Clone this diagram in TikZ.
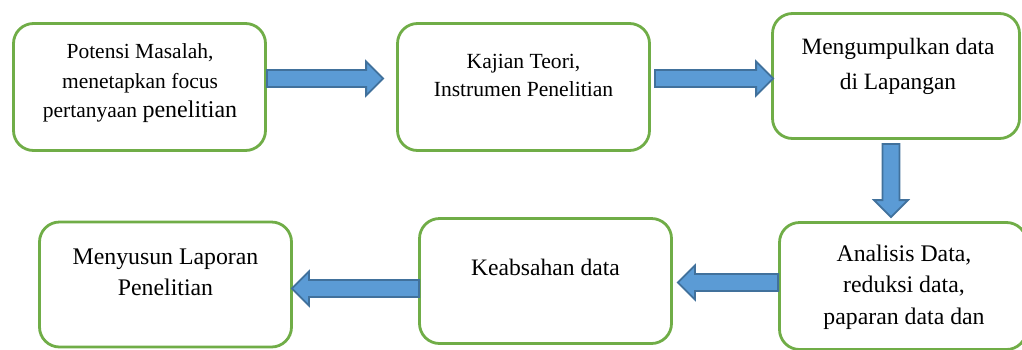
\documentclass[tikz,border=0pt]{standalone}
\usepackage{fontspec}
\setmainfont{Liberation Serif}
\usetikzlibrary{calc}
\definecolor{boxgreen}{HTML}{70AD47}
\definecolor{arrfill}{HTML}{5B9BD5}
\definecolor{arrline}{HTML}{41719C}
\tikzset{
  stepbox/.style={draw=boxgreen, line width=2.8pt, rounded corners=20pt, fill=white, inner sep=0pt},
  txt/.style={align=center, inner sep=0pt, text=black},
  barrow/.style={fill=arrfill, draw=arrline, line width=1.8pt, line join=miter},
  fa/.style={font=\fontsize{21.5}{29.5}\selectfont},
  fb/.style={font=\fontsize{23.6}{33}\selectfont}
}
% block arrow: #1 name prefix, #2 tail coordinate, #3 tip coordinate
\newcommand\blockarr[3]{%
  \path ($(#3)!17pt!(#2)$) coordinate (#1h);
  \draw[barrow] ($(#2)!8.5pt!90:(#3)$) -- ($(#1h)!8.5pt!-90:(#2)$)
     -- ($(#1h)!17pt!-90:(#2)$) -- (#3) -- ($(#1h)!17pt!90:(#2)$)
     -- ($(#1h)!8.5pt!90:(#2)$) -- ($(#2)!8.5pt!-90:(#3)$) -- cycle;}
\begin{document}
\begin{tikzpicture}[x=1pt,y=1pt]
\useasboundingbox (0,0) rectangle (1022,-349);
\clip (0,0) rectangle (1022,-349);
% boxes
\node[stepbox, minimum width=252pt, minimum height=127pt] (b1) at (139.5,-87) {};
\node[stepbox, minimum width=252pt, minimum height=127pt] (b2) at (523.5,-87) {};
\node[stepbox, minimum width=247pt, minimum height=125pt] (b3) at (896,-76) {};
\node[stepbox, minimum width=247pt, minimum height=127pt] (b6) at (903,-286) {};
\node[stepbox, minimum width=252pt, minimum height=125pt] (b5) at (545.5,-281) {};
\node[stepbox, minimum width=252pt, minimum height=125pt] (b4) at (165.5,-284.5) {};
% texts
\node[txt, fa] (t1) at ($(b1.north)+(0.5,-61)$) {Potensi Masalah,\\menetapkan focus\\pertanyaan {\fontsize{24}{29.5}\selectfont penelitian}};
\node[txt, fa, font=\fontsize{21.6}{28}\selectfont] (t2) at ($(b2.north)+(0,-53)$) {Kajian Teori,\\Instrumen Penelitian};
\node[txt, fb, font=\fontsize{23.4}{35}\selectfont] (t3) at ($(b3.north)+(2,-54)$) {Mengumpulkan data\\di Lapangan};
\node[txt, fb, font=\fontsize{23.8}{31.5}\selectfont] (t6) at ($(b6.north)+(1,-66)$) {Analisis Data,\\reduksi data,\\paparan data dan};
\node[txt, fb] (t5) at ($(b5.north)+(0,-50)$) {Keabsahan data};
\node[txt, fb, font=\fontsize{23.8}{31}\selectfont] (t4) at ($(b4.north)+(0,-52)$) {Menyusun Laporan\\Penelitian};
% arrow end points tied to the boxes
\coordinate (a1s) at ($(b1.east)+(0,8.5)$);
\coordinate (a1e) at ($(a1s -| b2.west)+(-13,0)$);
\coordinate (a2s) at ($(b2.east)+(4,8.5)$);
\coordinate (a2e) at ($(a2s -| b3.west)+(2,0)$);
\coordinate (a3s) at ($(b3.south)+(-5,-4)$);
\coordinate (a3e) at ($(a3s |- b6.north)+(0,4)$);
\coordinate (a4s) at ($(b6.west)+(0,3.5)$);
\coordinate (a4e) at ($(a4s -| b5.east)+(5,0)$);
\coordinate (a5s) at ($(b5.west)+(1,-7.5)$);
\coordinate (a5e) at ($(a5s -| b4.east)+(-1,0)$);
\blockarr{x1}{a1s}{a1e}
\blockarr{x2}{a2s}{a2e}
\blockarr{x3}{a3s}{a3e}
\blockarr{x4}{a4s}{a4e}
\blockarr{x5}{a5s}{a5e}
\end{tikzpicture}
\end{document}
